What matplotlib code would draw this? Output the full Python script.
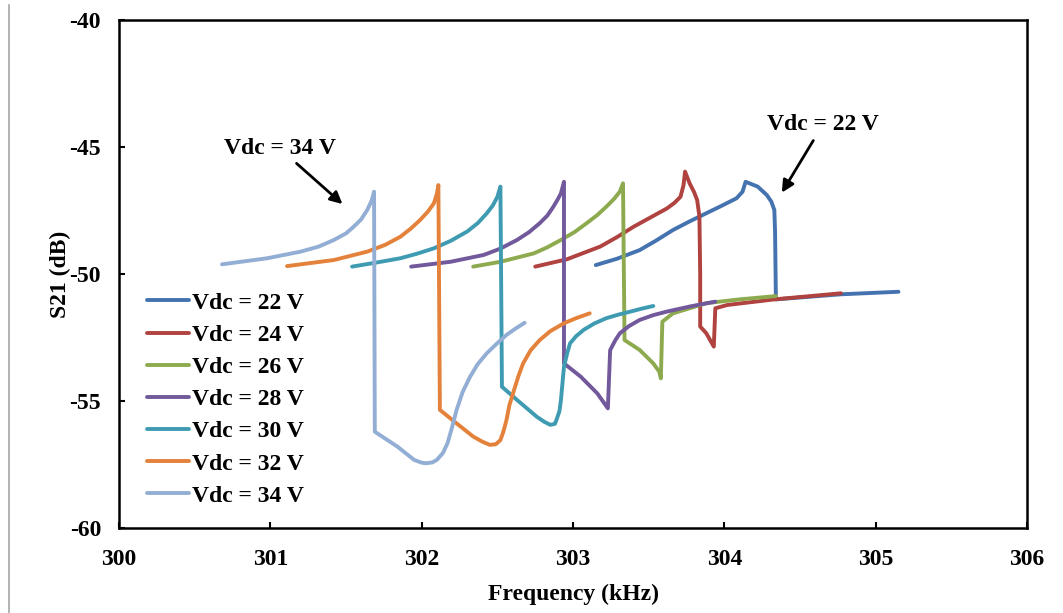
import matplotlib
matplotlib.use('Agg')
import matplotlib.pyplot as plt
from matplotlib.lines import Line2D

plt.rcParams['font.family'] = ['Liberation Serif', 'DejaVu Serif']
plt.rcParams['font.weight'] = 'bold'
plt.rcParams['font.size'] = 17
plt.rcParams['axes.unicode_minus'] = False

# S21 sweeps, one per bias voltage (frequency in kHz, S21 in dB)
f_22 = [303.15, 303.29, 303.44, 303.55, 303.66, 303.77, 303.88, 303.98, 304.08, 304.12, 304.14,
        304.22, 304.28, 304.31, 304.33, 304.335, 304.34, 304.34, 304.77, 305.15]
s_22 = [-49.65, -49.40, -49.06, -48.68, -48.27, -47.93, -47.61, -47.32, -47.02, -46.76, -46.37,
        -46.56, -46.89, -47.15, -47.48, -48.40, -50.89, -51.00, -50.80, -50.70]

f_24 = [302.75, 302.96, 303.18, 303.29, 303.40, 303.51, 303.62, 303.67, 303.71, 303.73, 303.74,
        303.77, 303.80, 303.82, 303.835, 303.84, 303.84, 303.88, 303.93, 303.94, 304.02, 304.33, 304.77]
s_24 = [-49.71, -49.42, -48.92, -48.55, -48.14, -47.78, -47.42, -47.20, -46.96, -46.50, -45.97,
        -46.43, -46.78, -47.09, -47.74, -50.00, -52.07, -52.33, -52.86, -51.35, -51.22, -51.00, -50.76]

f_26 = [302.34, 302.52, 302.74, 302.83, 302.92, 303.01, 303.09, 303.16, 303.22, 303.27, 303.31, 303.33,
        303.34, 303.44, 303.53, 303.57, 303.58, 303.59, 303.66, 303.77, 303.88, 304.10, 304.34]
s_26 = [-49.71, -49.52, -49.19, -48.95, -48.66, -48.35, -48.00, -47.68, -47.35, -47.05, -46.75, -46.43,
        -52.60, -52.99, -53.52, -53.85, -54.11, -51.88, -51.55, -51.35, -51.15, -51.00, -50.87]

f_28 = [301.93, 302.19, 302.41, 302.52, 302.63, 302.71, 302.78, 302.83, 302.87, 302.90, 302.92, 302.94,
        302.94, 303.05, 303.16, 303.23, 303.245, 303.28, 303.31, 303.37, 303.44, 303.53, 303.62, 303.78, 303.94]
s_28 = [-49.71, -49.52, -49.25, -49.00, -48.66, -48.35, -48.00, -47.70, -47.35, -47.05, -46.82, -46.37,
        -53.52, -54.04, -54.70, -55.29, -53.00, -52.60, -52.33, -52.05, -51.81, -51.62, -51.48, -51.27, -51.09]

f_30 = [301.54, 301.70, 301.86, 301.97, 302.08, 302.19, 302.30, 302.37, 302.43, 302.47, 302.50, 302.52,
        302.53, 302.63, 302.76, 302.81, 302.85, 302.88, 302.89, 302.91, 302.92, 302.93, 302.94, 302.96,
        302.98, 303.02, 303.07, 303.14, 303.22, 303.30, 303.38, 303.45, 303.53]
s_30 = [-49.71, -49.55, -49.38, -49.20, -48.99, -48.70, -48.33, -48.00, -47.61, -47.30, -46.96, -46.56,
        -54.44, -54.96, -55.62, -55.82, -55.94, -55.90, -55.75, -55.40, -54.96, -54.30, -53.65, -53.15,
        -52.73, -52.45, -52.20, -51.95, -51.74, -51.60, -51.48, -51.37, -51.26]

f_32 = [301.11, 301.42, 301.64, 301.76, 301.86, 301.93, 301.99, 302.04, 302.08, 302.10, 302.11,
        302.12, 302.23, 302.34, 302.40, 302.45, 302.49, 302.52, 302.54, 302.56, 302.58, 302.61, 302.64,
        302.67, 302.72, 302.78, 302.85, 302.94, 303.02, 303.11]
s_32 = [-49.69, -49.45, -49.12, -48.85, -48.53, -48.20, -47.87, -47.55, -47.22, -46.85, -46.50,
        -55.35, -55.88, -56.40, -56.60, -56.73, -56.70, -56.54, -56.20, -55.75, -55.15, -54.57, -54.00,
        -53.52, -53.00, -52.60, -52.25, -51.94, -51.74, -51.55]

f_34 = [300.68, 300.98, 301.20, 301.32, 301.42, 301.50, 301.55, 301.60, 301.64, 301.67, 301.685,
        301.69, 301.84, 301.95, 302.00, 302.03, 302.07, 302.10, 302.14, 302.17, 302.20, 302.23, 302.27,
        302.32, 302.37, 302.43, 302.50, 302.56, 302.62, 302.68]
s_34 = [-49.62, -49.38, -49.12, -48.92, -48.66, -48.40, -48.14, -47.85, -47.48, -47.10, -46.76,
        -56.21, -56.80, -57.32, -57.43, -57.45, -57.42, -57.32, -57.05, -56.67, -56.05, -55.36, -54.65,
        -54.04, -53.55, -53.12, -52.72, -52.40, -52.15, -51.92]

labels = ['Vdc = 22 V', 'Vdc = 24 V', 'Vdc = 26 V', 'Vdc = 28 V',
          'Vdc = 30 V', 'Vdc = 32 V', 'Vdc = 34 V']
colors = ['#4473B0', '#B0423F', '#8DAB4E', '#72599B', '#3F9BB2', '#E4823B', '#93AED5']
freqs = [f_22, f_24, f_26, f_28, f_30, f_32, f_34]
s21 = [s_22, s_24, s_26, s_28, s_30, s_32, s_34]

fig = plt.figure(figsize=(10.63, 6.13), dpi=100)
ax = fig.add_axes([0.112, 0.1387, 0.8542, 0.8287])

for f, s, c, lab in zip(freqs, s21, colors, labels):
    ax.plot(f, s, color=c, lw=2.8, label=lab, solid_joinstyle='round', solid_capstyle='round')

ax.set_xlim(300, 306)
ax.set_ylim(-60, -40)
ax.set_xticks(range(300, 307))
ax.set_yticks(range(-60, -39, 5))
ax.tick_params(direction='in', length=4, width=1.5, labelsize=17)
ax.tick_params(axis='x', pad=15)
ax.tick_params(axis='y', pad=13)
for sp in ax.spines.values():
    sp.set_linewidth(1.8)

ax.set_xlabel('Frequency (kHz)', fontsize=17, fontweight='bold', labelpad=10)
ax.set_ylabel('S21 (dB)', fontsize=17, fontweight='bold', labelpad=-1)

ax.legend(loc='center left', bbox_to_anchor=(0.031, 0.253), frameon=False,
          handlelength=1.75, handletextpad=0.15, labelspacing=0.45, borderpad=0, borderaxespad=0,
          prop={'weight': 'bold', 'size': 17})

arrow = dict(arrowstyle='-|>', color='black', lw=2, mutation_scale=18)
ax.annotate('Vdc = 34 V', xy=(301.49, -47.32), xytext=(301.06, -45.05),
            ha='center', va='center', fontsize=17, fontweight='bold', arrowprops=arrow)
ax.annotate('Vdc = 22 V', xy=(304.37, -46.89), xytext=(304.65, -44.13),
            ha='center', va='center', fontsize=17, fontweight='bold', arrowprops=arrow)

# thin grey rule down the left edge
fig.add_artist(Line2D([0.0085, 0.0085], [0.0, 0.992], color='#A6A6A6', lw=1.2))

fig.savefig('out.png', dpi=100)
